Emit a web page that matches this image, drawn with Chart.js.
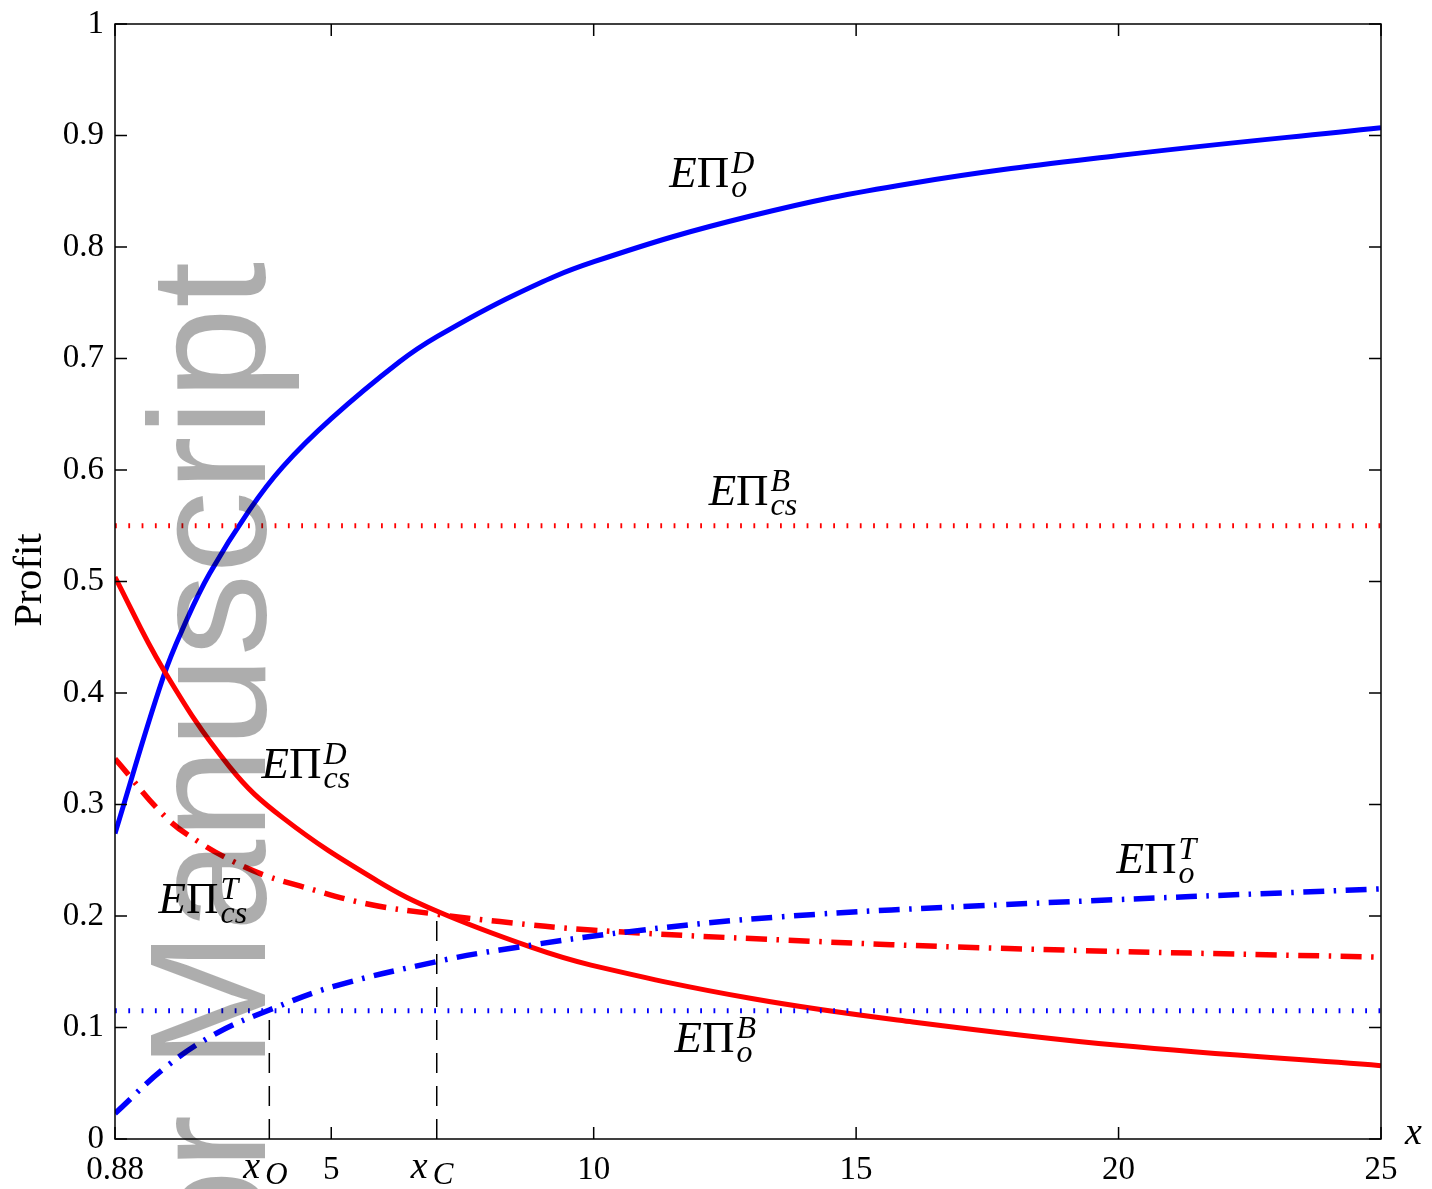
<!DOCTYPE html>
<html>
<head>
<meta charset="utf-8">
<script src="https://cdn.jsdelivr.net/npm/chart.js@4.4.1/dist/chart.umd.min.js"></script>
<style>
  html, body { margin: 0; padding: 0; background: #fff; }
  canvas { display: block; }
</style>
</head>
<body>
<canvas id="chart" width="1432" height="1189"></canvas>
<script>
// values
const xTicks = [0.88, 5, 10, 15, 20, 25];
const yTicks = [0, 0.1, 0.2, 0.3, 0.4, 0.5, 0.6, 0.7, 0.8, 0.9, 1];

// E Pi_o^D (blue solid)
const xOD = [0.88, 1.79, 2.24, 2.68, 3.44, 4.08, 5.0, 6.30, 7.03, 8.49, 10.02, 13.01, 16.04, 20.0, 25];
const yOD = [0.274, 0.413, 0.465, 0.507, 0.564, 0.603, 0.646, 0.697, 0.720, 0.757, 0.787, 0.828, 0.857, 0.882, 0.907];

// E Pi_cs^D (red solid)
const xCSD = [0.88, 1.79, 3.06, 4.08, 5.86, 7.03, 8.78, 9.95, 13.01, 16.08, 20, 25];
const yCSD = [0.504, 0.422, 0.334, 0.288, 0.232, 0.204, 0.1725, 0.156, 0.126, 0.105, 0.084, 0.0658];

// E Pi_cs^T (red dash-dot)
const xCST = [0.88, 1.86, 2.49, 3.13, 3.76, 4.40, 5.67, 6.94, 8.21, 9.95, 13.6, 17.74, 25];
const yCST = [0.341, 0.288, 0.266, 0.249, 0.236, 0.227, 0.211, 0.202, 0.195, 0.1874, 0.1785, 0.171, 0.163];

// E Pi_o^T (blue dash-dot)
const xOT = [0.88, 1.86, 2.81, 3.82, 5.03, 7.0, 8.21, 10.68, 13.6, 17.74, 25];
const yOT = [0.023, 0.065, 0.0948, 0.1157, 0.1366, 0.159, 0.1695, 0.186, 0.1994, 0.210, 0.2244];

// flat benchmarks and thresholds
const profitCSB = 0.55;
const profitOB = 0.115;
const xO = 3.82;
const xC = 7.01;
const xCTop = 0.204;

function pts(xs, ys) {
  return xs.map((x, i) => ({ x: x, y: ys[i] }));
}

const serif = '"Liberation Serif", "Times New Roman", serif';

// curve labels, anchored at the left of the E, on its baseline
const notes = [
  { x: 11.44, y: 0.854, sup: 'D', sub: 'o' },
  { x: 12.19, y: 0.5686, sup: 'B', sub: 'cs' },
  { x: 3.67, y: 0.3238, sup: 'D', sub: 'cs' },
  { x: 1.71, y: 0.2027, sup: 'T', sub: 'cs' },
  { x: 19.96, y: 0.2386, sup: 'T', sub: 'o' },
  { x: 11.54, y: 0.078, sup: 'B', sub: 'o' }
];

function drawMath(ctx, px, py, sup, sub) {
  ctx.textAlign = 'left';
  ctx.textBaseline = 'alphabetic';
  ctx.font = 'italic 45px ' + serif;
  ctx.fillText('E', px, py);
  let w = ctx.measureText('E').width;
  ctx.font = '45px ' + serif;
  ctx.fillText('\u03A0', px + w, py);
  w += ctx.measureText('\u03A0').width + 2;
  ctx.font = 'italic 32px ' + serif;
  ctx.fillText(sup, px + w, py - 14);
  ctx.fillText(sub, px + w, py + 10);
}

const overlay = {
  id: 'overlay',
  afterDatasetsDraw(chart) {
    const ctx = chart.ctx;
    const a = chart.chartArea;
    const x = chart.scales.x;
    const y = chart.scales.y;
    ctx.save();

    // box and inward ticks
    ctx.strokeStyle = '#000';
    ctx.lineWidth = 1.5;
    ctx.strokeRect(a.left, a.top, a.right - a.left, a.bottom - a.top);
    ctx.beginPath();
    yTicks.forEach(v => {
      const p = y.getPixelForValue(v);
      ctx.moveTo(a.left, p); ctx.lineTo(a.left + 12, p);
      ctx.moveTo(a.right, p); ctx.lineTo(a.right - 12, p);
    });
    xTicks.forEach(v => {
      const p = x.getPixelForValue(v);
      ctx.moveTo(p, a.bottom); ctx.lineTo(p, a.bottom - 12);
      ctx.moveTo(p, a.top); ctx.lineTo(p, a.top + 12);
    });
    ctx.stroke();

    ctx.fillStyle = '#000';
    notes.forEach(n => drawMath(ctx, x.getPixelForValue(n.x), y.getPixelForValue(n.y), n.sup, n.sub));

    // x_O and x_C under the axis
    [[xO, 'O'], [xC, 'C']].forEach(([v, s]) => {
      const p = x.getPixelForValue(v);
      ctx.textAlign = 'left';
      ctx.textBaseline = 'alphabetic';
      ctx.font = 'italic 38px ' + serif;
      ctx.fillText('x', p - 26, 1178);
      ctx.font = 'italic 31px ' + serif;
      ctx.fillText(s, p - 4, 1184);
    });

    // axis names
    ctx.font = 'italic 38px ' + serif;
    ctx.fillText('x', 1405, 1144);
    ctx.save();
    ctx.translate(41, 580);
    ctx.rotate(-Math.PI / 2);
    ctx.textAlign = 'center';
    ctx.font = '41px ' + serif;
    ctx.fillText('Profit', 0, 0);
    ctx.restore();

    ctx.restore();
  },
  afterDraw(chart) {
    const ctx = chart.ctx;
    ctx.save();
    ctx.translate(265, 262);
    ctx.rotate(-Math.PI / 2);
    ctx.textAlign = 'right';
    ctx.textBaseline = 'alphabetic';
    ctx.font = '165px "Liberation Sans", Arial, sans-serif';
    ctx.fillStyle = 'rgba(0, 0, 0, 0.32)';
    ctx.fillText('Author Manuscript', 0, 0);
    ctx.restore();
  }
};

const ctx = document.getElementById('chart').getContext('2d');
new Chart(ctx, {
  type: 'line',
  data: {
    datasets: [
      {
        data: pts([0.88, 25], [profitCSB, profitCSB]),
        borderColor: '#ff0000', borderWidth: 5, borderDash: [1.8, 11.5]
      },
      {
        data: pts([0.88, 25], [profitOB, profitOB]),
        borderColor: '#0000ff', borderWidth: 5, borderDash: [1.8, 11.5]
      },
      {
        data: pts([xO, xO], [0, profitOB]),
        borderColor: '#000', borderWidth: 1.5, borderDash: [20, 13]
      },
      {
        data: pts([xC, xC], [0, xCTop]),
        borderColor: '#000', borderWidth: 1.5, borderDash: [20, 13]
      },
      {
        data: pts(xOT, yOT),
        borderColor: '#0000ff', borderWidth: 5.5, borderDash: [21, 9.5, 2.5, 9.5],
        tension: 0.4
      },
      {
        data: pts(xCST, yCST),
        borderColor: '#ff0000', borderWidth: 5.5, borderDash: [21, 9.5, 2.5, 9.5],
        tension: 0.4
      },
      {
        data: pts(xCSD, yCSD),
        borderColor: '#ff0000', borderWidth: 5,
        tension: 0.4
      },
      {
        data: pts(xOD, yOD),
        borderColor: '#0000ff', borderWidth: 5,
        tension: 0.4
      }
    ]
  },
  options: {
    responsive: false,
    animation: false,
    devicePixelRatio: 1,
    layout: { padding: { top: 24, right: 51, left: 0, bottom: 0 } },
    plugins: {
      legend: { display: false },
      tooltip: { enabled: false }
    },
    elements: {
      point: { radius: 0 },
      line: { borderCapStyle: 'butt' }
    },
    scales: {
      x: {
        type: 'linear',
        min: 0.88,
        max: 25,
        grid: { display: false, drawTicks: false },
        border: { display: false },
        afterBuildTicks: s => { s.ticks = xTicks.map(v => ({ value: v })); },
        afterFit: s => { s.height = 50; s.paddingLeft = 0; s.paddingRight = 0; },
        ticks: {
          padding: 12,
          color: '#000',
          autoSkip: false,
          maxRotation: 0,
          font: { family: serif, size: 33 },
          callback: v => String(v)
        }
      },
      y: {
        min: 0,
        max: 1,
        grid: { display: false, drawTicks: false },
        border: { display: false },
        afterBuildTicks: s => { s.ticks = yTicks.map(v => ({ value: v })); },
        afterFit: s => { s.width = 115; s.paddingTop = 0; s.paddingBottom = 0; },
        ticks: {
          padding: 11,
          color: '#000',
          autoSkip: false,
          font: { family: serif, size: 33 },
          callback: v => (v === 0 || v === 1) ? String(v) : v.toFixed(1)
        }
      }
    }
  },
  plugins: [overlay]
});
</script>
</body>
</html>
